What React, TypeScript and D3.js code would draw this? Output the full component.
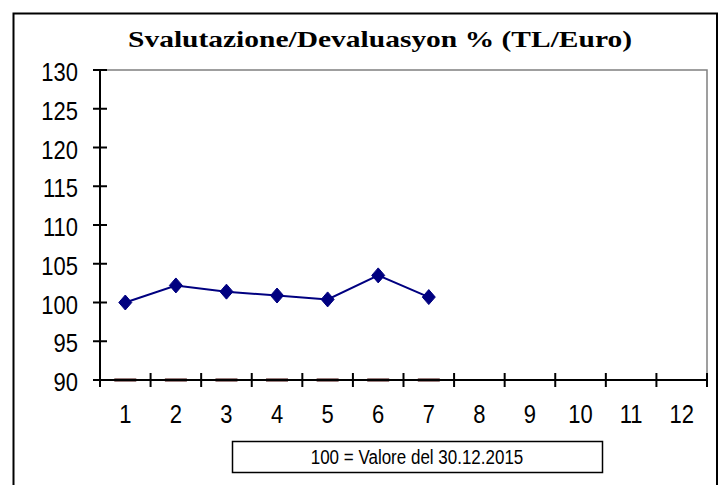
import React from "react";
import * as d3 from "d3";

const categories = ["1", "2", "3", "4", "5", "6", "7", "8", "9", "10", "11", "12"];
const values = [100, 102.2, 101.4, 100.9, 100.4, 103.5, 100.7];
const baseValues = [90, 90, 90, 90, 90, 90, 90];
const yTicks = [90, 95, 100, 105, 110, 115, 120, 125, 130];
const title = "Svalutazione/Devaluasyon % (TL/Euro)";
const note = "100 = Valore del 30.12.2015";

const sans = { fontFamily: "'Liberation Sans', Arial, sans-serif" };
const VS = 1.2;

export default function App() {
  const W = 721, H = 485;
  const left = 100, right = 707, top = 70, bottom = 380;
  const x = d3.scaleBand<string>().domain(categories).range([left, right]).padding(0);
  const y = d3.scaleLinear().domain([90, 130]).range([bottom, top]);
  const cx = (i: number) => (x(categories[i]) as number) + x.bandwidth() / 2;
  const line = d3.line<number>().x((_, i) => cx(i)).y((d) => y(d));
  const boundaries = d3.range(categories.length + 1).map((i) => left + i * x.bandwidth());
  const diamond = (px: number, py: number, rx: number, ry: number) =>
    `M${px},${py - ry}L${px + rx},${py}L${px},${py + ry}L${px - rx},${py}Z`;

  return (
    <svg width={W} height={H} style={{ position: "absolute", left: 0, top: 0, background: "#fff" }}>
      <rect x={13.5} y={13.5} width={703.5} height={480} fill="#fff" stroke="#000" strokeWidth={2} />
      <text
        x={380}
        y={47}
        textAnchor="middle"
        style={{ fontFamily: "'Liberation Serif', 'DejaVu Serif', serif", fontWeight: 700, fontSize: "24px" }}
        textLength={504}
        lengthAdjust="spacingAndGlyphs"
      >
        {title}
      </text>
      {/* plot frame */}
      <path d={`M${left},${top}H${right}V${bottom}`} fill="none" stroke="#808080" strokeWidth={1.5} />
      {/* base series */}
      {baseValues.map((v, i) => (
        <line key={"b" + i} x1={cx(i) - 11} x2={cx(i) + 11} y1={y(v)} y2={y(v)} stroke="#3a0000" strokeWidth={3} />
      ))}
      {/* y axis */}
      <line x1={left} x2={left} y1={top} y2={bottom + 7} stroke="#000" strokeWidth={2} />
      {yTicks.map((t) => (
        <g key={"y" + t}>
          <line x1={left - 7} x2={left + 7} y1={y(t)} y2={y(t)} stroke="#000" strokeWidth={2} />
          <g transform={`translate(78,${y(t) + 11}) scale(1,${VS})`}>
            <text x={0} y={0} textAnchor="end" style={{ ...sans, fontSize: "22px" }}>
              {t}
            </text>
          </g>
        </g>
      ))}
      {/* x axis */}
      <line x1={left - 7} x2={right} y1={bottom} y2={bottom} stroke="#000" strokeWidth={2} />
      {boundaries.map((b, i) => (
        <line key={"xt" + i} x1={b} x2={b} y1={bottom - 7} y2={bottom + 7} stroke="#000" strokeWidth={2} />
      ))}
      {categories.map((c, i) => (
        <g key={"xl" + c} transform={`translate(${cx(i)},423) scale(1,${VS})`}>
          <text x={0} y={0} textAnchor="middle" style={{ ...sans, fontSize: "22px" }}>
            {c}
          </text>
        </g>
      ))}
      {/* series */}
      <path d={line(values) || ""} fill="none" stroke="#000080" strokeWidth={2} />
      {values.map((v, i) => (
        <path key={"m" + i} d={diamond(cx(i), y(v), 6.5, 7.5)} fill="#000080" stroke="#000080" strokeWidth={1} />
      ))}
      {/* note box */}
      <rect x={232.5} y={441.5} width={370} height={31} fill="#fff" stroke="#000" strokeWidth={1.5} />
      <g transform={`translate(417,464) scale(1,1.15)`}>
        <text x={0} y={0} textAnchor="middle" style={{ ...sans, fontSize: "17px" }}>
          {note}
        </text>
      </g>
    </svg>
  );
}
